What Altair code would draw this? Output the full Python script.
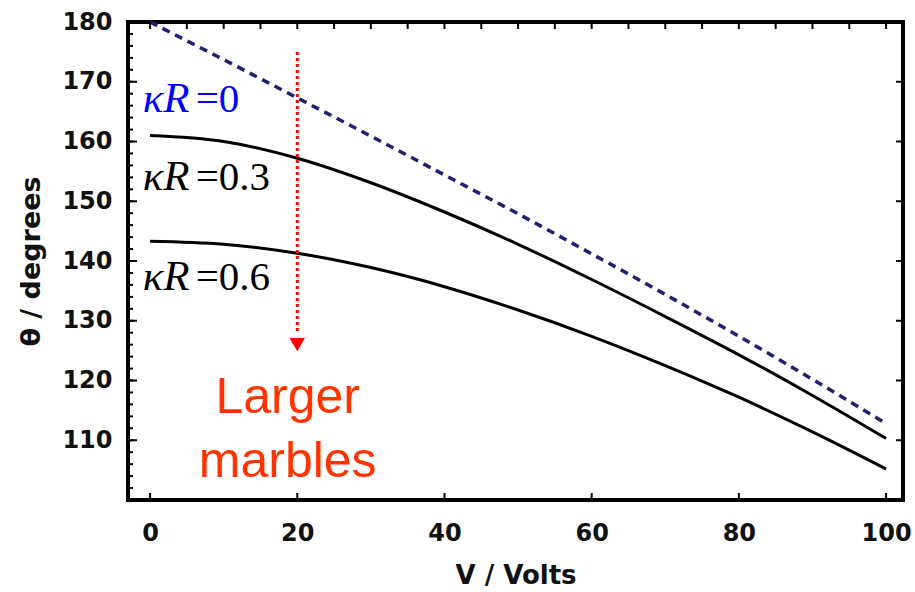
import altair as alt
import pandas as pd

# ---- data ----
V = [0, 10, 20, 30, 40, 50, 60, 70, 80, 90, 100]
theta_kR0 = [180.0, 173.7, 167.3, 160.9, 154.4, 147.9, 141.2, 134.4, 127.4, 120.2, 112.8]
theta_kR03 = [161.0, 160.0, 157.2, 153.1, 148.2, 142.8, 136.9, 130.7, 124.3, 117.5, 110.3]
theta_kR06 = [143.3, 142.8, 141.3, 138.9, 135.7, 131.8, 127.4, 122.5, 117.2, 111.4, 105.2]

label_italic = ["κR", "κR", "κR"]
label_value = ["=0", "=0.3", "=0.6"]
label_x = [-1.0, -1.0, -1.0]
label_y = [165.0, 151.9, 135.1]
label_color = ["#0000FF", "#000000", "#000000"]

note_lines = ["Larger", "marbles"]
note_x = [18.7, 18.7]
note_y = [114.5, 103.8]

arrow_x = [20]
arrow_top = [175.0]
arrow_bottom = [128.3]
arrow_head_y = [126.0]

x_labels = [0, 20, 40, 60, 80, 100]
y_labels = [110, 120, 130, 140, 150, 160, 170, 180]
left_minor = [v for v in range(100, 181, 2)]
left_major = [v for v in range(100, 181, 10)]
top_ticks = [v for v in range(0, 101, 5)]
bottom_ticks = [0, 20, 40, 60, 80, 100]
right_ticks = [v for v in range(100, 181, 10)]

W, H = 775, 478

xscale = alt.Scale(domain=[-3, 102.3], nice=False, zero=False)
yscale = alt.Scale(domain=[100, 180], nice=False, zero=False)

xaxis = alt.Axis(values=x_labels, ticks=False, domain=False, grid=False,
                 labelFont="DejaVu Sans", labelFontWeight="bold", labelFontSize=24,
                 labelColor="#111111", labelPadding=21,
                 title="V / Volts", titleFont="DejaVu Sans", titleFontWeight="bold",
                 titleFontSize=26, titleColor="#111111", titlePadding=17)
yaxis = alt.Axis(values=y_labels, ticks=False, domain=False, grid=False,
                 labelFont="DejaVu Sans", labelFontWeight="bold", labelFontSize=24,
                 labelColor="#111111", labelPadding=16,
                 title="θ / degrees", titleFont="DejaVu Sans", titleFontWeight="bold",
                 titleFontSize=27, titleColor="#111111", titlePadding=16)


def X(field="V"):
    return alt.X(f"{field}:Q", scale=xscale, axis=xaxis)


def Y(field="theta"):
    return alt.Y(f"{field}:Q", scale=yscale, axis=yaxis)


curves = pd.DataFrame({
    "V": V * 3,
    "theta": theta_kR0 + theta_kR03 + theta_kR06,
    "series": ["0"] * len(V) + ["0.3"] * len(V) + ["0.6"] * len(V),
})

dashed = alt.Chart(curves[curves.series == "0"]).mark_line(
    color="#202070", strokeWidth=3.5, strokeDash=[8, 6], interpolate="monotone"
).encode(x=X(), y=Y())

solid = alt.Chart(curves[curves.series != "0"]).mark_line(
    color="#000000", strokeWidth=3, interpolate="monotone"
).encode(x=X(), y=Y(), detail="series:N")

labels = pd.DataFrame({"V": label_x, "theta": label_y, "a": label_italic,
                       "b": label_value, "c": label_color})
lab_a = alt.Chart(labels).mark_text(
    font="Liberation Serif", fontSize=43, fontStyle="italic", align="left",
    baseline="alphabetic"
).encode(x=X(), y=Y(), text="a:N", color=alt.Color("c:N", scale=None))
lab_b = alt.Chart(labels).mark_text(
    font="Liberation Serif", fontSize=41, align="left", baseline="alphabetic", dx=53
).encode(x=X(), y=Y(), text="b:N", color=alt.Color("c:N", scale=None))

note = pd.DataFrame({"V": note_x, "theta": note_y, "t": note_lines})
note_text = alt.Chart(note).mark_text(
    font="Liberation Sans", fontSize=50, color="#FF3300", align="center",
    baseline="alphabetic"
).encode(x=X(), y=Y(), text="t:N")

arrow = pd.DataFrame({"V": arrow_x, "theta": arrow_top, "theta2": arrow_bottom,
                      "hy": arrow_head_y})
arrow_line = alt.Chart(arrow).mark_rule(
    color="#FF0000", strokeWidth=3, strokeDash=[3, 3]
).encode(x=X(), y=Y(), y2="theta2:Q")
arrow_head = alt.Chart(arrow).mark_point(
    shape="triangle-down", filled=True, color="#FF0000", size=240, opacity=1
).encode(x=X(), y=Y("hy"))

# frame ticks (inward)
lm = alt.Chart(pd.DataFrame({"theta": left_minor})).mark_rule(
    color="#000000", strokeWidth=2).encode(y=Y(), x=alt.value(0), x2=alt.value(5))
lM = alt.Chart(pd.DataFrame({"theta": left_major})).mark_rule(
    color="#000000", strokeWidth=2).encode(y=Y(), x=alt.value(0), x2=alt.value(9))
tt = alt.Chart(pd.DataFrame({"V": top_ticks})).mark_rule(
    color="#000000", strokeWidth=2).encode(x=X(), y=alt.value(0), y2=alt.value(7))
bt = alt.Chart(pd.DataFrame({"V": bottom_ticks})).mark_rule(
    color="#000000", strokeWidth=2).encode(x=X(), y=alt.value(H), y2=alt.value(H - 7))
rt = alt.Chart(pd.DataFrame({"theta": right_ticks})).mark_rule(
    color="#000000", strokeWidth=2).encode(y=Y(), x=alt.value(W), x2=alt.value(W - 7))

chart = alt.layer(
    dashed, solid, lab_a, lab_b, note_text, arrow_line, arrow_head, lm, lM, tt, bt, rt
).properties(
    width=W, height=H,
    autosize=alt.AutoSizeParams(type="none"),
    padding={"left": 128, "top": 22, "right": 12, "bottom": 92},
    background="white",
).configure_view(stroke="#000000", strokeWidth=4)

chart.save("out.html", embed_options={"renderer": "svg", "actions": False})
